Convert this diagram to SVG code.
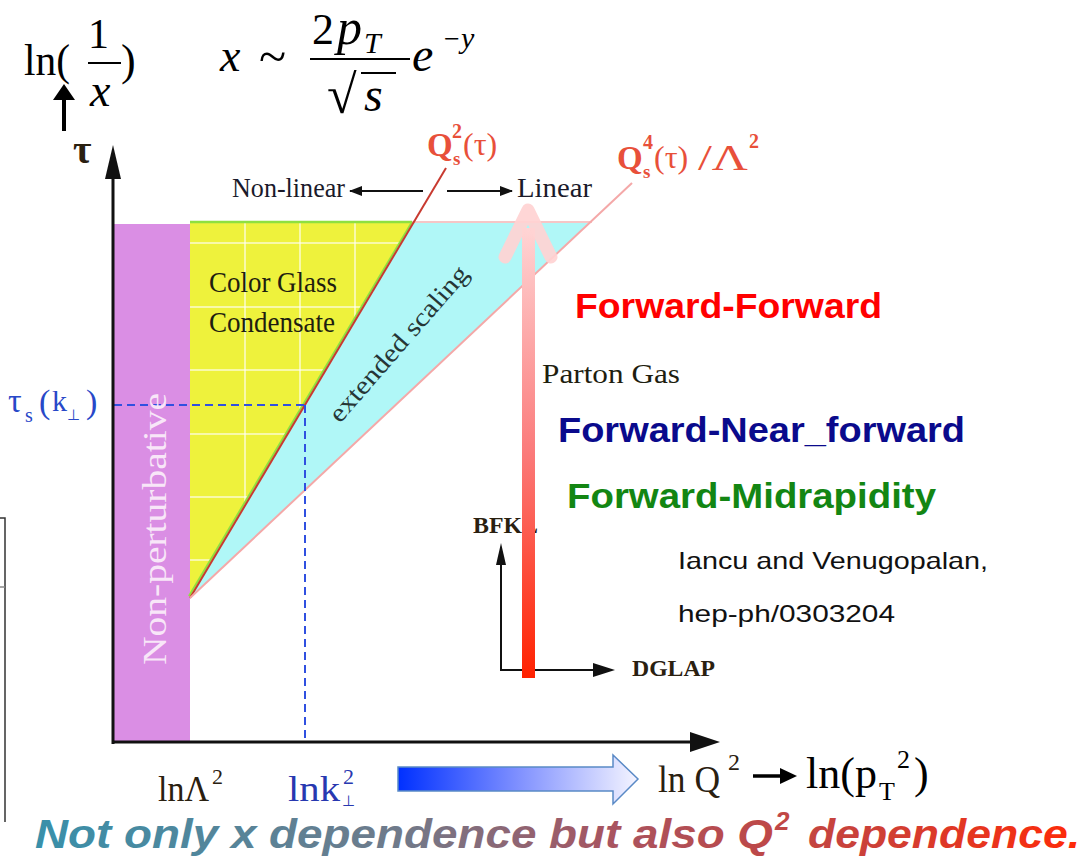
<svg xmlns="http://www.w3.org/2000/svg" width="1085" height="858" viewBox="0 0 1085 858">
<style>
.serif{font-family:"Liberation Serif","Times New Roman",serif}
.sans{font-family:"Liberation Sans",Arial,sans-serif}
.it{font-style:italic}
.red{fill:#e8503a;font-weight:bold}
.redn{fill:#e8503a;font-weight:normal}
.dark{fill:#2a2010}
.grid{stroke:#ffffff;stroke-opacity:0.75;stroke-width:1.5}
.ax{stroke:#111;stroke-width:3;fill:none}
</style>
<defs>
<linearGradient id="bigArrow" x1="0" y1="678" x2="0" y2="225" gradientUnits="userSpaceOnUse">
<stop offset="0" stop-color="#ff2200"/>
<stop offset="0.5" stop-color="#fb7b7b"/>
<stop offset="1" stop-color="#ffd6d6"/>
</linearGradient>
<linearGradient id="blueArrow" x1="398" y1="0" x2="638" y2="0" gradientUnits="userSpaceOnUse">
<stop offset="0" stop-color="#0030ff"/>
<stop offset="0.5" stop-color="#7f90ff"/>
<stop offset="1" stop-color="#f4f4ff"/>
</linearGradient>
<linearGradient id="bottomText" x1="35" y1="0" x2="1080" y2="0" gradientUnits="userSpaceOnUse">
<stop offset="0" stop-color="#3890aa"/>
<stop offset="0.35" stop-color="#707a8a"/>
<stop offset="0.55" stop-color="#a85460"/>
<stop offset="0.8" stop-color="#cc4038"/>
<stop offset="1" stop-color="#ff2a08"/>
</linearGradient>
<clipPath id="yclip"><polygon points="190,222 412,222 190,598"/></clipPath>
</defs>

<g id="left-box" stroke="#333" stroke-width="1.5" fill="none">
<polyline points="0,518 5,518 5,822"/>
<line x1="0" y1="587" x2="5" y2="587" stroke="#888"/>
</g>

<g id="regions">
<rect id="non-perturbative" x="113" y="224" width="77" height="517" fill="#da8ee4"/>
<polygon id="cgc" points="190,222 412,222 190,598" fill="#eef23c"/>
<g clip-path="url(#yclip)">
<line class="grid" x1="245" y1="222" x2="245" y2="600"/>
<line class="grid" x1="300" y1="222" x2="300" y2="600"/>
<line class="grid" x1="355" y1="222" x2="355" y2="600"/>
<line class="grid" x1="190" y1="243" x2="420" y2="243"/>
<line class="grid" x1="190" y1="307" x2="420" y2="307"/>
<line class="grid" x1="190" y1="370" x2="420" y2="370"/>
<line class="grid" x1="190" y1="434" x2="420" y2="434"/>
<line class="grid" x1="190" y1="497" x2="420" y2="497"/>
<line class="grid" x1="190" y1="560" x2="420" y2="560"/>
</g>
<polyline points="190,222 412,222" stroke="#8ee040" stroke-width="2.5" fill="none"/>
<polygon id="extended" points="190,598 413,222 590,222" fill="#b0f7f7"/>
<line x1="412" y1="222" x2="592" y2="222" stroke="#f6c6c6" stroke-width="2"/>
<line x1="189" y1="596" x2="412" y2="222" stroke="#8ee040" stroke-width="2"/>
</g>

<g id="connectors">
<line x1="190" y1="598" x2="446" y2="168" stroke="#c83a30" stroke-width="2"/>
<line x1="190" y1="598" x2="632" y2="183" stroke="#f4a8a8" stroke-width="2"/>
<g stroke="#3050e0" stroke-width="2" stroke-dasharray="8 5" fill="none">
<line x1="114" y1="405" x2="305" y2="405"/>
<line x1="305" y1="405" x2="305" y2="741"/>
</g>
<line class="ax" x1="113" y1="744" x2="113" y2="175"/>
<polygon points="105,179 113,145 121,179" fill="#111"/>
<line class="ax" x1="112" y1="742" x2="695" y2="742"/>
<polygon points="690,732 720,742 690,752" fill="#111"/>
<line x1="350" y1="191" x2="423" y2="191" stroke="#111" stroke-width="2"/>
<polygon points="362,186 349,191 362,196" fill="#111"/>
<line x1="447" y1="191" x2="512" y2="191" stroke="#111" stroke-width="2"/>
<polygon points="500,186 513,191 500,196" fill="#111"/>
<line x1="64" y1="131" x2="64" y2="96" stroke="#000" stroke-width="4"/>
<polygon points="53,100 64,84 75,100" fill="#000"/>
<polyline points="501,560 501,670 600,670" stroke="#111" stroke-width="2" fill="none"/>
<polygon points="496,565 501,543 506,565" fill="#111"/>
<polygon points="593,663 615,670 593,677" fill="#111"/>
<line x1="753" y1="776" x2="785" y2="776" stroke="#000" stroke-width="3.5"/>
<polygon points="780,768 797,776 780,784" fill="#000"/>
<polygon id="blue-arrow" points="398,767 613,767 613,755 638,779 613,804 613,791 398,791" fill="url(#blueArrow)" stroke="#5a8ac6" stroke-width="1.5"/>
</g>

<g id="labels-bfkl">
<text class="serif dark" x="473" y="533" font-size="23" font-weight="bold" textLength="65" lengthAdjust="spacingAndGlyphs">BFKL</text>
<text class="serif dark" x="632" y="676" font-size="23" font-weight="bold" textLength="83" lengthAdjust="spacingAndGlyphs">DGLAP</text>
</g>

<g id="big-arrow">
<rect x="522" y="228" width="13" height="450" fill="url(#bigArrow)"/>
<polyline points="505,257 528,210 551,257" stroke="#ffd2d2" stroke-opacity="0.92" stroke-width="13" stroke-linecap="round" stroke-linejoin="round" fill="none"/>
</g>

<g id="formula-ln">
<text class="serif" x="24" y="75" font-size="44" textLength="46" lengthAdjust="spacingAndGlyphs">ln(</text>
<text class="serif" x="88" y="48" font-size="42">1</text>
<line x1="88" y1="63" x2="121" y2="63" stroke="#000" stroke-width="2"/>
<text class="serif it" x="90" y="106" font-size="46">x</text>
<text class="serif" x="121" y="75" font-size="44">)</text>
</g>

<g id="formula-x">
<text class="serif it" x="220" y="71" font-size="46">x</text>
<text class="serif" x="259" y="73" font-size="50">~</text>
<text class="serif" x="312" y="44" font-size="44">2</text>
<text class="serif it" x="337" y="44" font-size="50">p</text>
<text class="serif it" x="364" y="53" font-size="30">T</text>
<line x1="310" y1="59" x2="410" y2="59" stroke="#000" stroke-width="2"/>
<text class="serif" x="327" y="113" font-size="54">√</text>
<line x1="361" y1="73" x2="396" y2="73" stroke="#000" stroke-width="2.2"/>
<text class="serif it" x="364" y="111" font-size="48">s</text>
<text class="serif it" x="412" y="71" font-size="48">e</text>
<text class="serif" x="444" y="48" font-size="28">−</text>
<text class="serif it" x="461" y="48" font-size="30">y</text>
</g>

<g id="axis-tau">
<text class="serif dark" x="73" y="163" font-size="40" font-weight="bold">τ</text>
</g>

<g id="label-qs2">
<text class="serif red" x="427" y="156" font-size="33">Q</text>
<text class="serif red" x="453" y="165" font-size="19">s</text>
<text class="serif red" x="452" y="138" font-size="20">2</text>
<text class="serif redn" x="463" y="155" font-size="32">(τ)</text>
</g>

<g id="label-qs4">
<text class="serif red" x="617" y="169" font-size="33">Q</text>
<text class="serif red" x="643" y="178" font-size="19">s</text>
<text class="serif red" x="643" y="149" font-size="20">4</text>
<text class="serif redn" x="654" y="168" font-size="32">(τ)</text>
<text class="serif redn" x="698" y="170" font-size="36" textLength="50" lengthAdjust="spacingAndGlyphs">/Λ</text>
<text class="serif red" x="749" y="148" font-size="20">2</text>
</g>

<g id="label-nonlinear">
<text class="serif" x="232" y="197" font-size="27" fill="#1a1a2a" textLength="113" lengthAdjust="spacingAndGlyphs">Non-linear</text>
<text class="serif" x="517" y="197" font-size="27" fill="#1a1a2a" textLength="75" lengthAdjust="spacingAndGlyphs">Linear</text>
</g>

<g id="label-npert">
<text class="serif" transform="translate(166,529) rotate(-90)" text-anchor="middle" font-size="34" fill="#f8e6f8" textLength="272" lengthAdjust="spacingAndGlyphs">Non-perturbative</text>
</g>

<g id="label-cgc">
<text class="serif" x="209" y="292" font-size="29" fill="#1e1e10" textLength="128" lengthAdjust="spacingAndGlyphs">Color Glass</text>
<text class="serif" x="209" y="332" font-size="29" fill="#1e1e10" textLength="126" lengthAdjust="spacingAndGlyphs">Condensate</text>
</g>

<g id="label-extended">
<text class="serif" transform="translate(340,424) rotate(-49)" font-size="26" fill="#263636" textLength="198" lengthAdjust="spacingAndGlyphs">extended scaling</text>
</g>

<g id="label-parton">
<text class="serif" x="542" y="383" font-size="28" fill="#1e1e10" textLength="138" lengthAdjust="spacingAndGlyphs">Parton Gas</text>
</g>

<g id="label-tau-s">
<text class="serif" x="8" y="412" font-size="34" fill="#2848c8">τ</text>
<text class="serif" x="25" y="422" font-size="20" fill="#2848c8">s</text>
<text class="serif" x="39" y="413" font-size="34" fill="#2848c8">(</text>
<text class="serif" x="52" y="411" font-size="30" fill="#2848c8">k</text>
<text class="serif" x="67" y="420" font-size="15" fill="#2848c8">⊥</text>
<text class="serif" x="86" y="413" font-size="34" fill="#2848c8">)</text>
</g>

<g id="labels-forward">
<text class="sans" x="575" y="318" font-size="35" font-weight="bold" fill="#ff0000" textLength="307" lengthAdjust="spacingAndGlyphs">Forward-Forward</text>
<text class="sans" x="558" y="442" font-size="35" font-weight="bold" fill="#0a0a8c" textLength="407" lengthAdjust="spacingAndGlyphs">Forward-Near_forward</text>
<text class="sans" x="567" y="508" font-size="35" font-weight="bold" fill="#138613" textLength="369" lengthAdjust="spacingAndGlyphs">Forward-Midrapidity</text>
</g>

<g id="label-ref">
<text class="sans" x="678" y="569" font-size="24" fill="#111" textLength="310" lengthAdjust="spacingAndGlyphs">Iancu and Venugopalan,</text>
<text class="sans" x="678" y="622" font-size="24" fill="#111" textLength="217" lengthAdjust="spacingAndGlyphs">hep-ph/0303204</text>
</g>

<g id="labels-xaxis">
<text class="serif dark" x="158" y="801" font-size="36" textLength="51" lengthAdjust="spacingAndGlyphs">lnΛ</text>
<text class="serif dark" x="212" y="784" font-size="22">2</text>
<text class="serif" x="288" y="801" font-size="36" fill="#2838b0" textLength="52" lengthAdjust="spacingAndGlyphs">lnk</text>
<text class="serif" x="343" y="784" font-size="22" fill="#2838b0">2</text>
<text class="serif" x="342" y="806" font-size="15" fill="#2838b0">⊥</text>
<text class="serif dark" x="658" y="792" font-size="38" textLength="62" lengthAdjust="spacingAndGlyphs">ln Q</text>
<text class="serif dark" x="728" y="770" font-size="24">2</text>
<text class="serif" x="806" y="788" font-size="44" fill="#000">ln(p</text>
<text class="serif" x="879" y="800" font-size="26" fill="#000">T</text>
<text class="serif" x="897" y="768" font-size="26" fill="#000">2</text>
<text class="serif" x="914" y="788" font-size="44" fill="#000">)</text>
</g>

<g id="bottom-text" class="sans" font-weight="bold" font-style="italic" fill="url(#bottomText)">
<text x="35" y="848" font-size="40" textLength="738" lengthAdjust="spacingAndGlyphs">Not only x dependence but also Q</text>
<text x="775" y="830" font-size="26">2</text>
<text x="808" y="848" font-size="40" textLength="272" lengthAdjust="spacingAndGlyphs">dependence.</text>
</g>
</svg>
